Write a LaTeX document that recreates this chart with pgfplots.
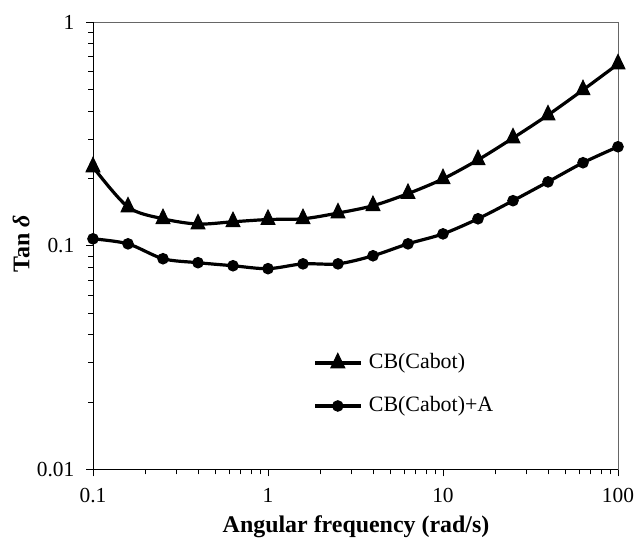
\documentclass[border=0pt]{standalone}
\usepackage{fontspec}
\setmainfont{Liberation Serif}
\usepackage{pgfplots}
\pgfplotsset{compat=1.18}
\begin{document}
\begin{tikzpicture}
\begin{axis}[
  scale only axis,
  width=525bp, height=447.5bp,
  xmode=log, ymode=log,
  xmin=0.1, xmax=100, ymin=0.01, ymax=1,
  xtick={0.1,1,10,100}, xticklabels={0.1,1,10,100},
  ytick={0.01,0.1,1}, yticklabels={0.01,0.1,1},
  tick align=outside,
  xtick pos=bottom, ytick pos=left,
  major tick length=7bp, minor tick length=5bp,
  every tick/.style={black, line width=0.8bp},
  axis line style={black!60, line width=0.9bp},
  ticklabel style={font=\fontsize{21.5}{24}\selectfont, inner sep=0pt},
  yticklabel style={xshift=-11.5bp},
  xticklabel style={yshift=-11.5bp},
  xlabel={\textbf{Angular frequency (rad/s)}},
  ylabel={\textbf{Tan \textit{δ}}},
  label style={font=\fontsize{24}{28}\selectfont},
  xlabel style={at={(axis description cs:0.501,-0.128)}, anchor=center},
  ylabel style={at={(axis description cs:-0.137,0.504)}, anchor=center},
  legend style={draw=none, fill=none, at={(axis description cs:0.42,0.19)}, anchor=west,
    inner sep=0pt, font=\fontsize{22}{26}\selectfont,
    nodes={inner sep=0pt, text height=16bp, text depth=5bp},
    column sep=7bp, row sep=22bp},
  legend cell align=left,
  legend image code/.code={\draw[mark repeat=2, mark phase=2, #1] plot coordinates {(0bp,0bp) (22.5bp,0bp) (45bp,0bp)};},
]
\addplot[black, line width=3.2bp, smooth, tension=0.5, mark=triangle*, mark size=8bp, mark options={solid, line width=1bp, yscale=1.2}]
coordinates {
(0.1,0.225) (0.1585,0.149) (0.2512,0.132) (0.3981,0.125) (0.631,0.128) (1,0.131) (1.585,0.132) (2.512,0.140)
(3.981,0.151) (6.31,0.171) (10,0.199) (15.85,0.242) (25.12,0.303) (39.81,0.384) (63.1,0.497) (100,0.649)
};
\addlegendentry{CB(Cabot)}
\addplot[black, line width=3.2bp, smooth, tension=0.5, mark=*, mark size=5.3bp, mark options={solid, line width=1bp}]
coordinates {
(0.1,0.1074) (0.1585,0.102) (0.2512,0.0875) (0.3981,0.084) (0.631,0.0814) (1,0.079) (1.585,0.083) (2.512,0.083)
(3.981,0.0902) (6.31,0.102) (10,0.113) (15.85,0.132) (25.12,0.159) (39.81,0.193) (63.1,0.235) (100,0.277)
};
\addlegendentry{CB(Cabot)+A}
\draw[black, line width=0.9bp] (rel axis cs:0,1) -- (rel axis cs:0,0) -- (rel axis cs:1,0);
\end{axis}
\path (current axis.south west) ++(-93bp,-73.5bp) coordinate (bbA);
\path (current axis.north east) ++(20bp,22bp) coordinate (bbB);
\path (bbA) rectangle (bbB);
\end{tikzpicture}
\end{document}
